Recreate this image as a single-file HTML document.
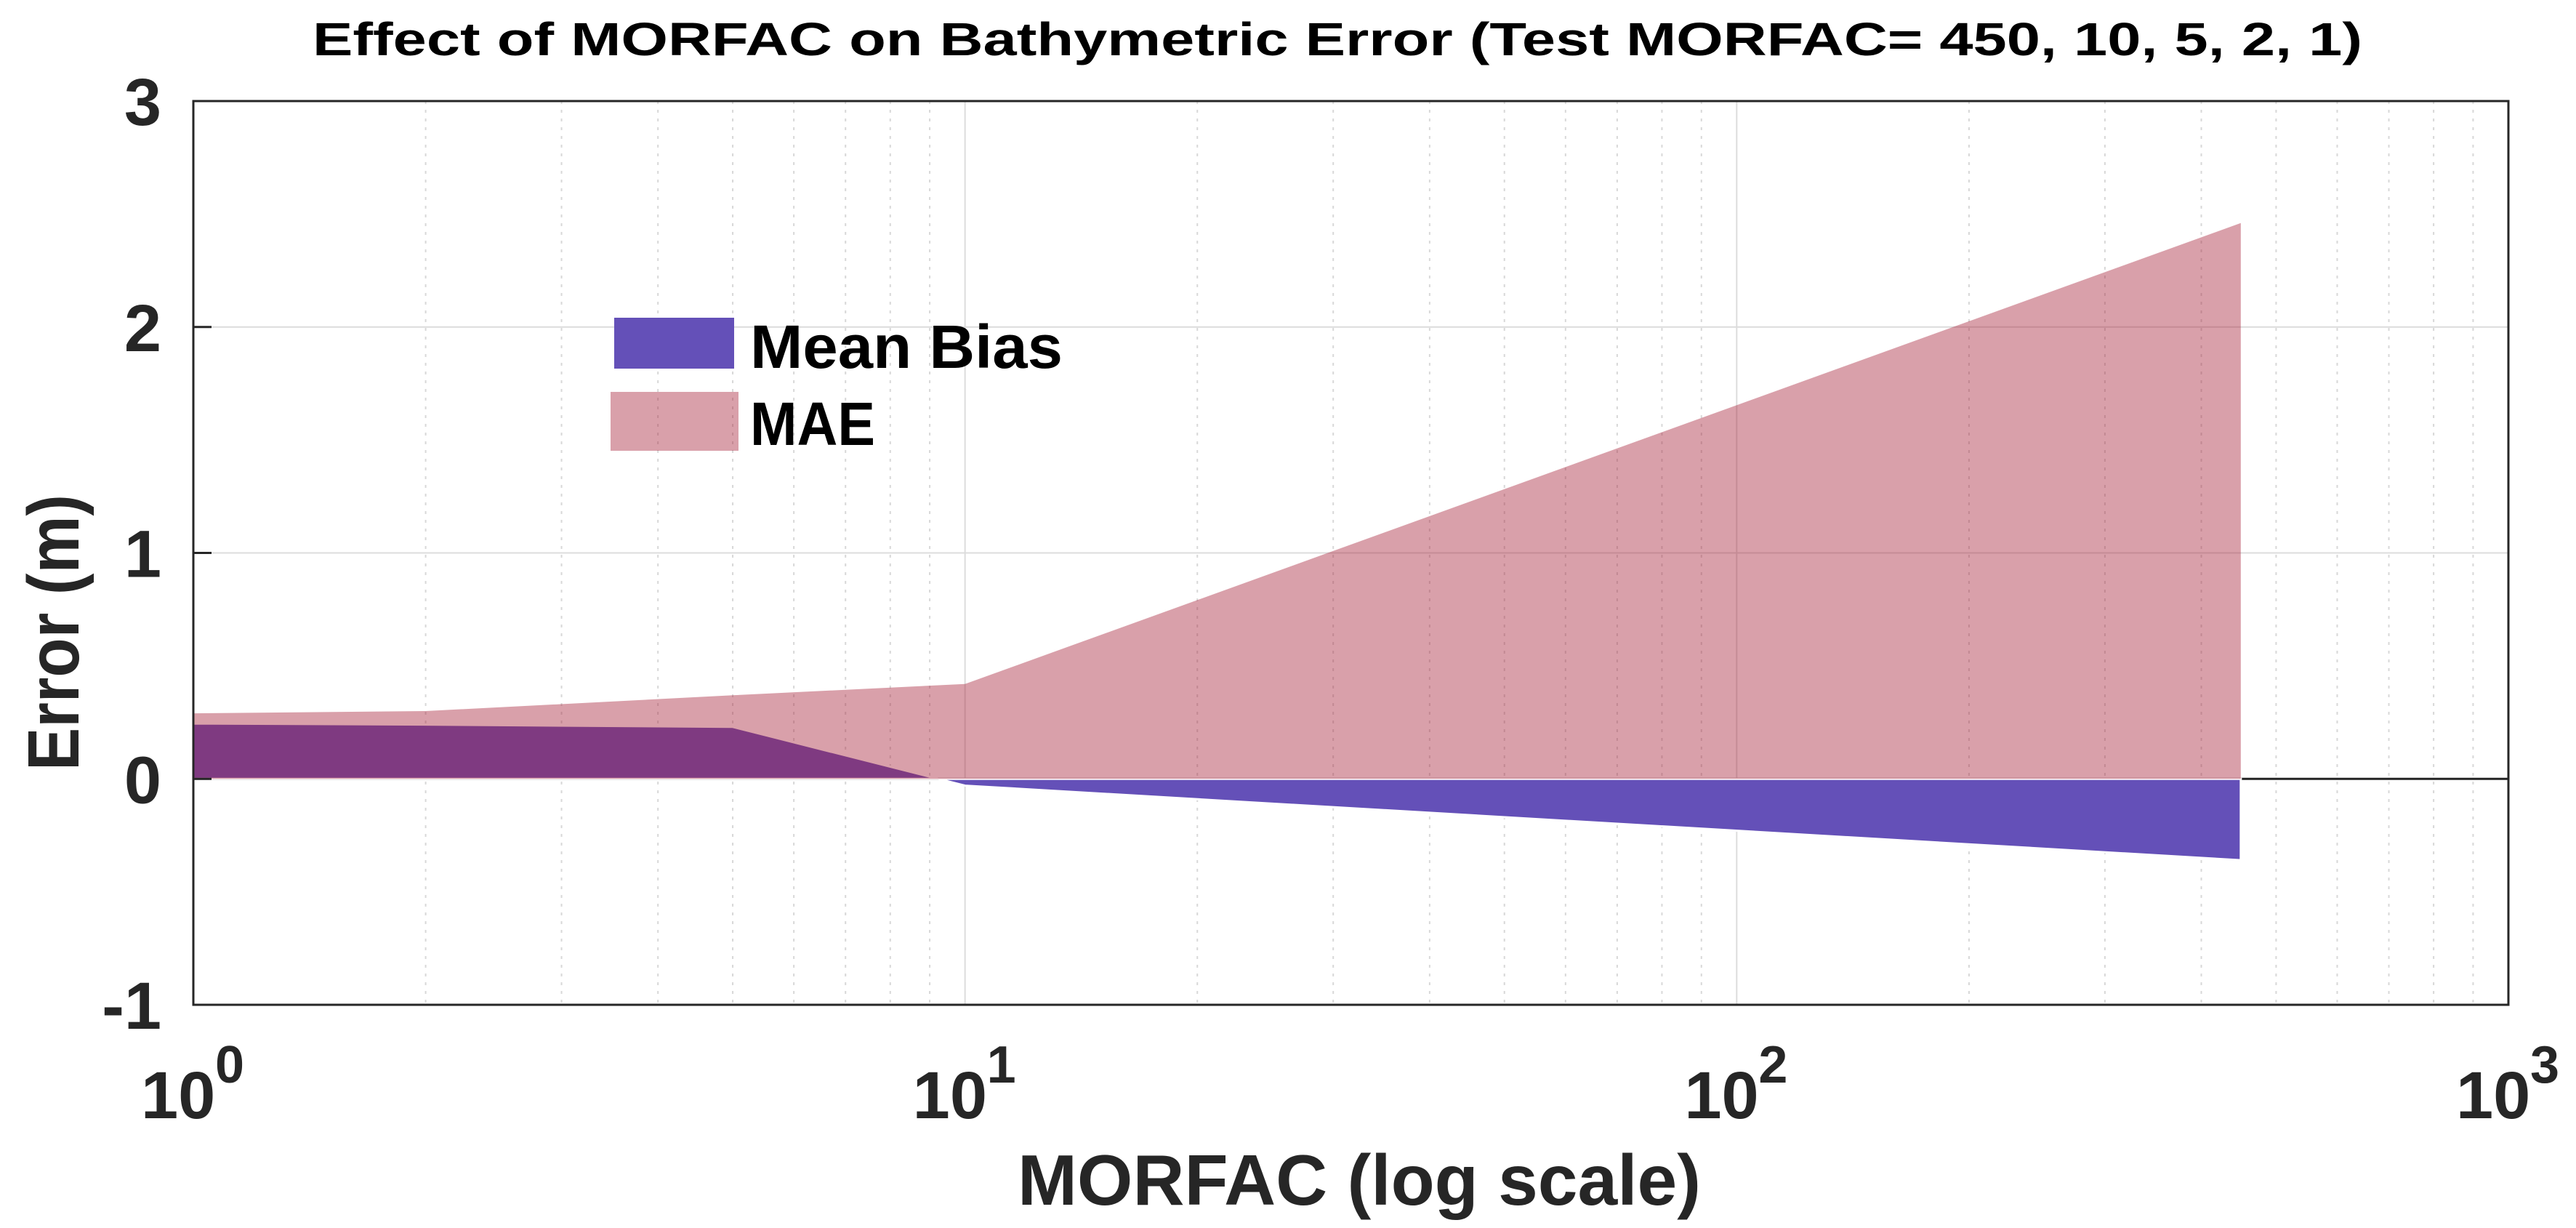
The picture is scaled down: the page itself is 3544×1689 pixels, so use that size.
<!DOCTYPE html>
<html><head><meta charset="utf-8"><style>
html,body{margin:0;padding:0;background:#fff;}
svg{display:block;}
text{font-family:"Liberation Sans",Arial,sans-serif;font-weight:bold;fill:#262626;}
</style></head><body>
<svg id="chart" width="3544" height="1689" viewBox="0 0 3544 1689" xmlns="http://www.w3.org/2000/svg">
<rect x="0" y="0" width="3544" height="1689" fill="#fff"/>
<g id="grid"></g>
<g id="marks"></g>
<g id="axes"></g>
<text x="1840" y="76" font-size="64" text-anchor="middle" textLength="2820" lengthAdjust="spacingAndGlyphs" fill="#000" style="fill:#000">Effect of MORFAC on Bathymetric Error (Test MORFAC= 450, 10, 5, 2, 1)</text>
<text transform="translate(108,870) rotate(-90)" font-size="100" text-anchor="middle" textLength="380" lengthAdjust="spacingAndGlyphs">Error (m)</text>
<text x="1870" y="1657" font-size="98" text-anchor="middle" textLength="940" lengthAdjust="spacingAndGlyphs">MORFAC (log scale)</text>
<g>
<rect x="845" y="437" width="165" height="70" fill="#6450b8"/>
<text x="1032" y="506" font-size="84" style="fill:#000" textLength="430" lengthAdjust="spacingAndGlyphs">Mean Bias</text>
<rect x="840" y="539" width="176" height="81" fill="rgba(164,28,52,0.42)"/>
<text x="1032" y="612" font-size="84" style="fill:#000" textLength="172" lengthAdjust="spacingAndGlyphs">MAE</text>
</g>
</svg>
<script>
const morfac = [1, 2, 5, 10, 450];
const meanBias = [0.245, 0.24, 0.23, -0.03, -0.36];
const mae = [0.29, 0.30, 0.37, 0.42, 2.46];
const yTicks = [-1, 0, 1, 2, 3];
const xTickExps = [0, 1, 2, 3];

const NS = "http://www.w3.org/2000/svg";
const L = 266, R = 3451, T = 139, B = 1382;
const xMin = 0, xMax = 3, yMin = -1, yMax = 3;
function xs(v){ return L + (Math.log10(v) - xMin) / (xMax - xMin) * (R - L); }
function ys(v){ return B - (v - yMin) / (yMax - yMin) * (B - T); }
function mk(tag, attrs, parent){ const e = document.createElementNS(NS, tag); for (const k in attrs) e.setAttribute(k, attrs[k]); parent.appendChild(e); return e; }

const grid = document.getElementById('grid');
const marks = document.getElementById('marks');
const axes = document.getElementById('axes');

// minor vertical gridlines
for (let d = 0; d < 3; d++) {
  for (let m = 2; m <= 9; m++) {
    const x = xs(m * Math.pow(10, d));
    const g = mk('line', {x1:x, x2:x, y1:T, y2:B, stroke:'#d8d8d8', 'stroke-width':2, 'stroke-dasharray':'4,8'}, grid);
    
    
  }
}
// major vertical
xTickExps.forEach(e => {
  const x = xs(Math.pow(10, e));
  const g = mk('line', {x1:x, x2:x, y1:T, y2:B, stroke:'#dcdcdc', 'stroke-width':2}, grid);
  
  
});
// horizontal
yTicks.forEach(v => {
  const y = ys(v);
  const g = mk('line', {x1:L, x2:R, y1:y, y2:y, stroke: v === 0 ? '#222' : '#dcdcdc', 'stroke-width': v === 0 ? 3 : 2}, grid);
  
  
});

// areas
function areaPath(vals){
  let d = 'M' + xs(morfac[0]) + ',' + ys(0);
  morfac.forEach((m, i) => { d += ' L' + xs(m) + ',' + ys(vals[i]); });
  d += ' L' + xs(morfac[morfac.length-1]) + ',' + ys(0) + ' Z';
  return d;
}
const bias = mk('path', {d: areaPath(meanBias), fill:'#6450b8', stroke:'#fff', 'stroke-width':3}, marks);


const maeA = mk('path', {d: areaPath(mae), fill:'rgba(164,28,52,0.42)'}, marks);



// axes box
const box = mk('rect', {x:L, y:T, width:R-L, height:B-T, fill:'none', stroke:'#262626', 'stroke-width':3}, axes);



yTicks.forEach(v => {
  const y = ys(v);
  const tk = mk('line', {x1:L, x2:L+25, y1:y, y2:y, stroke:'#262626', 'stroke-width':3}, axes);
  
  
  const t = mk('text', {x:222, y:y+33, 'font-size':92, 'text-anchor':'end'}, axes);
  t.textContent = String(v);
  
  
});
xTickExps.forEach(e => {
  const x = xs(Math.pow(10, e));
  const t = mk('text', {x:x-72, y:1538, 'font-size':92}, axes);
  t.textContent = '10';
  
  
  const s = mk('text', {x:x+30, y:1489, 'font-size':72}, axes);
  s.textContent = String(e);
  
  
});
</script>
</body></html>
